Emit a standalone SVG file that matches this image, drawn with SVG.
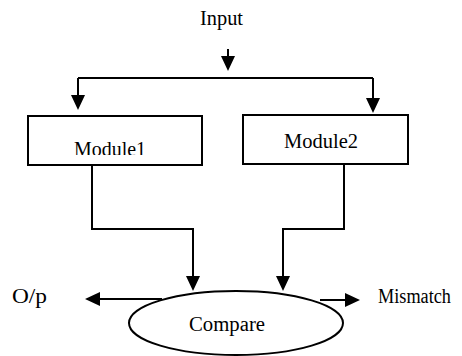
<svg xmlns="http://www.w3.org/2000/svg" width="462" height="356" viewBox="0 0 462 356">
  <style>
    text { font-family: "Liberation Serif", "Times New Roman", serif; font-size: 20px; fill: #000; }
    .box { fill: #fff; stroke: #000; stroke-width: 2; }
    .wire { fill: none; stroke: #000; stroke-width: 2; }
    .head { fill: #000; }
  </style>
  <defs>
    <clipPath id="label-clip">
      <rect x="28" y="116" width="174" height="39"/>
    </clipPath>
  </defs>
  <rect width="462" height="356" fill="#fff"/>

  <g id="input">
    <text x="200" y="25" textLength="43" lengthAdjust="spacingAndGlyphs">Input</text>
  </g>

  <g id="connectors">
    <!-- input feed, split to both modules -->
    <path class="wire" d="M228,49 V58"/>
    <path class="head" d="M221,56 L235,56 L228,71 z"/>
    <path class="wire" d="M78,78 H373"/>
    <path class="wire" d="M78,78 V96"/>
    <path class="head" d="M71,95 L85,95 L78,110 z"/>
    <path class="wire" d="M373,78 V98"/>
    <path class="head" d="M366,98 L380,98 L373,113 z"/>

    <!-- module outputs into compare -->
    <path class="wire" d="M92,165 V229 H193 V277"/>
    <path class="head" d="M186,276 L200,276 L193,291 z"/>
    <path class="wire" d="M344,164 V229 H283 V277"/>
    <path class="head" d="M276,276 L290,276 L283,291 z"/>

    <!-- compare results -->
    <path class="wire" d="M162,299 H98"/>
    <path class="head" d="M100,292 L100,306 L85,299 z"/>
    <path class="wire" d="M320,300 H346"/>
    <path class="head" d="M345,293 L345,307 L360,300 z"/>
  </g>

  <g id="module1">
    <rect class="box" x="28" y="116" width="174" height="49"/>
    <text x="74" y="156" textLength="72" lengthAdjust="spacingAndGlyphs" clip-path="url(#label-clip)">Module1</text>
  </g>
  <g id="module2">
    <rect class="box" x="243" y="115" width="165" height="49"/>
    <text x="284" y="148" textLength="74" lengthAdjust="spacingAndGlyphs">Module2</text>
  </g>
  <g id="compare">
    <ellipse class="box" cx="236" cy="323" rx="107" ry="32"/>
    <text x="189" y="331" textLength="76" lengthAdjust="spacingAndGlyphs">Compare</text>
  </g>
  <g id="op">
    <text x="12" y="303" textLength="35" lengthAdjust="spacingAndGlyphs">O/p</text>
  </g>
  <g id="mismatch">
    <text x="378" y="303" textLength="73" lengthAdjust="spacingAndGlyphs">Mismatch</text>
  </g>
</svg>
